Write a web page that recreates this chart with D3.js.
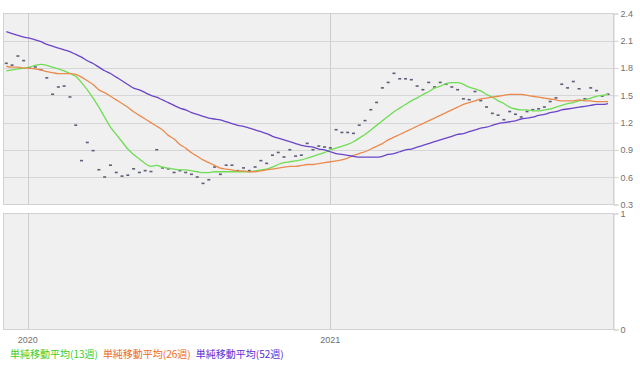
<!DOCTYPE html>
<html>
<head>
<meta charset="utf-8">
<script src="https://cdn.jsdelivr.net/npm/d3@7"></script>
<style>
  body { margin: 0; background: #fff; }
  svg { display: block; }
  .tick-label { font: 9px "Liberation Sans", Arial, sans-serif; fill: #707070; }
  .legend { font: 10px "Noto Sans CJK JP", sans-serif; }
</style>
</head>
<body>
<svg width="640" height="367"></svg>
<script>
// weekly closes (Fridays, 2019-12-06 .. 2021-12-03)
const closes = [
  1.85, 1.83, 1.93, 1.88, 1.80, 1.81, 1.78, 1.69, 1.51, 1.59,
  1.60, 1.48, 1.17, 0.78, 0.98, 0.89, 0.68, 0.60, 0.73, 0.65,
  0.61, 0.62, 0.69, 0.65, 0.67, 0.66, 0.90, 0.70, 0.69, 0.65,
  0.67, 0.65, 0.63, 0.60, 0.53, 0.57, 0.71, 0.63, 0.73, 0.73,
  0.67, 0.70, 0.67, 0.71, 0.78, 0.75, 0.84, 0.87, 0.82, 0.90,
  0.83, 0.84, 0.97, 0.90, 0.94, 0.93, 0.92, 1.12, 1.09, 1.09,
  1.08, 1.17, 1.22, 1.34, 1.42, 1.58, 1.64, 1.74, 1.68, 1.68,
  1.67, 1.60, 1.56, 1.64, 1.59, 1.64, 1.62, 1.59, 1.56, 1.46,
  1.45, 1.54, 1.44, 1.37, 1.30, 1.28, 1.23, 1.32, 1.29, 1.26,
  1.32, 1.34, 1.35, 1.37, 1.43, 1.47, 1.62, 1.58, 1.65, 1.57,
  1.46, 1.58, 1.55, 1.49, 1.51
];

// 13 week simple moving average
const ma13 = [
  1.77, 1.78, 1.79, 1.80, 1.81, 1.83, 1.84, 1.83, 1.81, 1.79,
  1.77, 1.74, 1.71, 1.64, 1.56, 1.47, 1.37, 1.26, 1.15, 1.07,
  0.99, 0.91, 0.85, 0.80, 0.75, 0.72, 0.73, 0.71, 0.70, 0.69,
  0.68, 0.68, 0.67, 0.66, 0.65, 0.65, 0.66, 0.66, 0.66, 0.66,
  0.66, 0.66, 0.66, 0.67, 0.68, 0.69, 0.71, 0.74, 0.76, 0.77,
  0.78, 0.79, 0.81, 0.83, 0.85, 0.87, 0.90, 0.92, 0.94, 0.96,
  0.99, 1.03, 1.07, 1.12, 1.17, 1.22, 1.27, 1.32, 1.36, 1.40,
  1.44, 1.47, 1.51, 1.54, 1.58, 1.60, 1.63, 1.64, 1.64, 1.62,
  1.59, 1.57, 1.55, 1.51, 1.48, 1.44, 1.41, 1.37, 1.35, 1.34,
  1.34, 1.33, 1.33, 1.34, 1.35, 1.37, 1.39, 1.41, 1.42, 1.44,
  1.45, 1.47, 1.49, 1.50, 1.51
];

// 26 week
const ma26 = [
  1.82, 1.81, 1.81, 1.80, 1.80, 1.79, 1.78, 1.76, 1.75, 1.74,
  1.74, 1.74, 1.73, 1.70, 1.66, 1.62, 1.56, 1.53, 1.49, 1.45,
  1.41, 1.37, 1.32, 1.28, 1.24, 1.20, 1.16, 1.12, 1.06, 1.02,
  0.96, 0.92, 0.87, 0.83, 0.79, 0.76, 0.73, 0.70, 0.69, 0.68,
  0.67, 0.67, 0.66, 0.66, 0.67, 0.68, 0.69, 0.70, 0.71, 0.72,
  0.72, 0.73, 0.74, 0.74, 0.75, 0.76, 0.77, 0.78, 0.79, 0.81,
  0.84, 0.86, 0.88, 0.91, 0.94, 0.97, 1.01, 1.04, 1.07, 1.10,
  1.13, 1.16, 1.19, 1.22, 1.25, 1.28, 1.31, 1.34, 1.37, 1.40,
  1.42, 1.44, 1.46, 1.47, 1.48, 1.49, 1.50, 1.51, 1.51, 1.51,
  1.50, 1.49, 1.48, 1.47, 1.46, 1.45, 1.44, 1.44, 1.44, 1.45,
  1.44, 1.44, 1.43, 1.43, 1.43
];

// 52 week
const ma52 = [
  2.20, 2.18, 2.16, 2.14, 2.13, 2.11, 2.09, 2.06, 2.04, 2.02,
  2.00, 1.98, 1.95, 1.92, 1.88, 1.85, 1.81, 1.77, 1.74, 1.70,
  1.66, 1.62, 1.58, 1.56, 1.53, 1.50, 1.48, 1.45, 1.42, 1.39,
  1.36, 1.34, 1.31, 1.29, 1.27, 1.25, 1.24, 1.23, 1.21, 1.19,
  1.17, 1.16, 1.14, 1.12, 1.10, 1.08, 1.05, 1.03, 1.01, 0.99,
  0.97, 0.95, 0.94, 0.93, 0.91, 0.90, 0.88, 0.86, 0.85, 0.84,
  0.83, 0.82, 0.82, 0.82, 0.82, 0.83, 0.85, 0.86, 0.88, 0.90,
  0.91, 0.93, 0.95, 0.97, 0.99, 1.01, 1.03, 1.05, 1.07, 1.08,
  1.10, 1.12, 1.14, 1.15, 1.17, 1.19, 1.20, 1.21, 1.22, 1.24,
  1.25, 1.26, 1.28, 1.29, 1.31, 1.32, 1.34, 1.35, 1.36, 1.37,
  1.38, 1.39, 1.40, 1.40, 1.41
];

const yTicks = [0.3, 0.6, 0.9, 1.2, 1.5, 1.8, 2.1, 2.4];
const subTicks = [0, 1];
const yearTicks = [new Date(2020, 0, 1), new Date(2021, 0, 1)];
const series = [
  { name: '単純移動平均(13週)', values: ma13, line: '#6edd52', text: '#3ccc2a' },
  { name: '単純移動平均(26週)', values: ma26, line: '#ec8a4e', text: '#ee6a1e' },
  { name: '単純移動平均(52週)', values: ma52, line: '#6a45c8', text: '#5a2ed0' }
];

const weeks = d3.timeFriday.range(new Date(2019, 11, 6), new Date(2021, 11, 4));

const svg = d3.select('svg');

const left = 3, right = 613;
const x = d3.scaleTime()
    .domain([new Date(2019, 11, 2), new Date(2021, 11, 9)])
    .range([left, right]);
const y = d3.scaleLinear().domain([0.3, 2.4]).range([204.5, 13.5]);
const y2 = d3.scaleLinear().domain([0, 1]).range([329.5, 213.5]);

function panel(scale, ticks, grid) {
  const [y0, y1] = scale.range();
  svg.append('rect')
      .attr('x', left + 0.5).attr('y', y1)
      .attr('width', right - left).attr('height', y0 - y1)
      .attr('fill', '#f0f0f0').attr('stroke', '#d2d2d2');

  if (grid) {
    svg.append('g').selectAll('line')
      .data(ticks.slice(1, -1))
      .join('line')
        .attr('x1', left).attr('x2', right)
        .attr('y1', d => Math.round(scale(d)) + 0.5)
        .attr('y2', d => Math.round(scale(d)) + 0.5)
        .attr('stroke', '#d6d6d6');
  }

  svg.append('g').selectAll('line')
    .data(yearTicks)
    .join('line')
      .attr('x1', d => Math.round(x(d)) + 0.5).attr('x2', d => Math.round(x(d)) + 0.5)
      .attr('y1', y1).attr('y2', y0)
      .attr('stroke', '#cdcdcd');

  const axis = d3.axisRight(scale)
      .tickValues(ticks)
      .tickSize(5)
      .tickPadding(2)
      .tickFormat(d3.format('~g'));
  const g = svg.append('g')
      .attr('transform', `translate(${right + 0.5},0)`)
      .call(axis);
  g.select('.domain').attr('stroke', '#d2d2d2');
  g.selectAll('.tick line').attr('stroke', '#d2d2d2');
  g.selectAll('.tick text').attr('class', 'tick-label').attr('fill', null);
}

panel(y, yTicks, true);
panel(y2, subTicks, false);

// weekly marks
svg.append('g').selectAll('rect')
  .data(closes)
  .join('rect')
    .attr('x', (d, i) => x(weeks[i]) - 1.5)
    .attr('y', d => y(d) - 1)
    .attr('width', 3)
    .attr('height', 1.6)
    .attr('fill', '#5c5f78');

const line = d3.line()
    .x((d, i) => x(weeks[i]))
    .y(d => y(d))
    .curve(d3.curveMonotoneX);

svg.append('g').selectAll('path')
  .data(series)
  .join('path')
    .attr('d', d => line(d.values))
    .attr('fill', 'none')
    .attr('stroke', d => d.line)
    .attr('stroke-width', 1.3);

// x labels
svg.append('g').selectAll('text')
  .data(yearTicks)
  .join('text')
    .attr('class', 'tick-label')
    .attr('x', d => x(d))
    .attr('y', 343)
    .attr('text-anchor', 'middle')
    .text(d3.timeFormat('%Y'));

// legend
const legend = svg.append('text')
    .attr('class', 'legend')
    .attr('x', 10)
    .attr('y', 358);
series.forEach((s, i) => {
  legend.append('tspan')
      .attr('fill', s.text)
      .attr('dx', i ? 5 : 0)
      .text(s.name);
});
</script>
</body>
</html>
